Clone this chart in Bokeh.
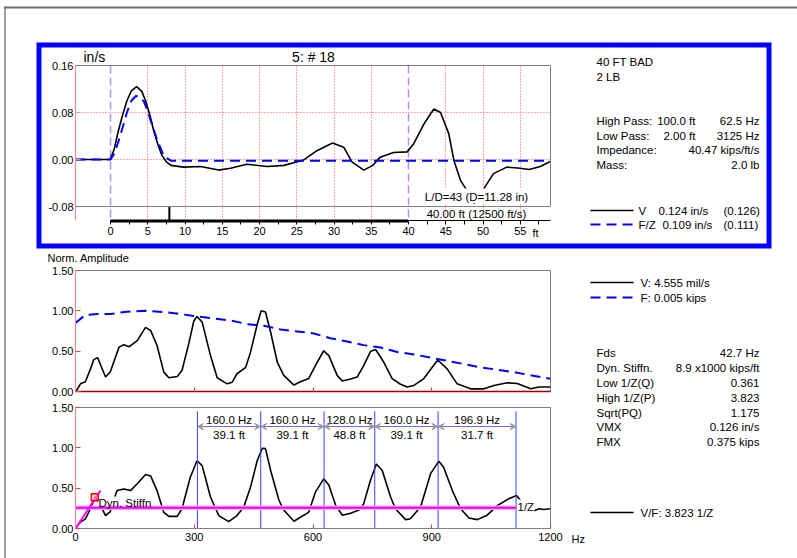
from bokeh.plotting import figure
from bokeh.models import (Range1d, LinearAxis, FixedTicker, PrintfTickFormatter, Span, Grid,
                          Arrow, VeeHead, ColumnDataSource)
from bokeh.layouts import row, column
from bokeh.embed import file_html
from bokeh.resources import INLINE
from bokeh.core.properties import value

# ---------------- data ----------------
top_v_ft = [-4.7, -0.2, 0.0, 0.5, 1.0, 1.6, 2.2, 2.8, 3.5, 4.2, 4.7, 5.3, 5.8, 6.4, 6.9, 7.5, 8.1, 9.8,
            12.1, 14.5, 16.1, 18.3, 21.0, 23.3, 25.9, 27.7, 29.8, 31.3, 32.4, 34.0, 35.2, 36.2, 38.0,
            39.8, 40.7, 42.1, 43.4, 44.3, 45.4, 46.1, 47.0, 47.7, 48.8, 50.1, 51.4, 53.2, 55.0, 56.2,
            57.7, 59.1]
top_v_val = [0, 0, 0.001, 0.018, 0.046, 0.075, 0.100, 0.117, 0.124, 0.116, 0.100, 0.075, 0.049, 0.024,
             0.007, -0.004, -0.010, -0.013, -0.012, -0.018, -0.015, -0.008, -0.012, -0.010, -0.001,
             0.015, 0.028, 0.021, -0.004, -0.018, -0.010, 0.004, 0.012, 0.013, 0.027, 0.061, 0.086,
             0.080, 0.044, -0.002, -0.036, -0.050, -0.075, -0.050, -0.024, -0.013, -0.015, -0.017,
             -0.012, -0.003]
top_f_ft = [-4.7, 0.0, 0.5, 1.1, 1.7, 2.2, 2.8, 3.4, 4.0, 4.5, 5.0, 5.4, 6.3, 7.2, 8.1, 59.1]
top_f_val = [0, 0, 0.010, 0.032, 0.058, 0.080, 0.100, 0.108, 0.106, 0.098, 0.082, 0.066, 0.032,
             0.005, -0.002, -0.002]
pile_length_ft = 40.0
sensor_ft = 7.9
wave_speed = 12500.0

top_yticks = [-0.08, 0.0, 0.08, 0.16]
ft_major = [0, 5, 10, 15, 20, 25, 30, 35, 40, 45, 50, 55]
ft_minor = [2.5, 7.5, 12.5, 17.5, 22.5, 27.5, 32.5, 37.5, 42.5, 47.5, 52.5, 57.5]
ft_grid = [5, 10, 15, 20, 25, 30, 35, 45, 50, 55]

mid_hz = [0, 2.5, 12.6, 25, 38, 46, 56, 65, 76, 88, 110, 122, 136, 156, 177, 190, 206, 223, 236, 257,
          269, 286, 299, 307, 320, 341, 358, 383, 396, 408, 430, 442, 459, 469, 480, 493, 510, 526,
          552, 568, 589, 606, 627, 640, 661, 674, 695, 712, 728, 745, 758, 771, 779, 800, 821, 838,
          855, 880, 915, 939, 964, 998, 1032, 1057, 1091, 1116, 1150, 1171, 1200]
mid_v = [0.0, 0.01, 0.095, 0.12, 0.28, 0.395, 0.42, 0.31, 0.18, 0.245, 0.55, 0.58, 0.555, 0.63, 0.795,
         0.755, 0.57, 0.24, 0.17, 0.185, 0.26, 0.59, 0.875, 0.93, 0.86, 0.445, 0.17, 0.095, 0.115,
         0.22, 0.30, 0.485, 0.83, 1.0, 0.985, 0.735, 0.36, 0.2, 0.08, 0.12, 0.16, 0.32, 0.505, 0.445,
         0.2, 0.13, 0.155, 0.18, 0.32, 0.495, 0.52, 0.425, 0.36, 0.16, 0.09, 0.055, 0.075, 0.16, 0.39,
         0.28, 0.095, 0.033, 0.033, 0.075, 0.108, 0.10, 0.033, 0.055, 0.055]
mid_f_hz = [0, 25, 55, 88, 130, 177, 223, 265, 307, 350, 392, 434, 476, 518, 560, 602, 644, 686, 728,
            771, 813, 855, 939, 1023, 1107, 1200]
mid_f = [0.85, 0.95, 0.96, 0.96, 0.99, 1.0, 0.985, 0.96, 0.93, 0.905, 0.88, 0.835, 0.815, 0.77, 0.745,
         0.72, 0.66, 0.62, 0.575, 0.545, 0.49, 0.46, 0.38, 0.30, 0.24, 0.157]

mob_hz = [0, 12.6, 25, 38, 50, 63, 76, 88, 101, 105, 122, 139, 156, 177, 190, 206, 223, 236, 257, 269,
          290, 307, 320, 341, 362, 387, 408, 425, 442, 459, 472, 480, 493, 514, 526, 552, 568, 589,
          606, 627, 640, 657, 674, 695, 716, 728, 745, 760, 775, 796, 808, 834, 846, 872, 897, 918,
          930, 952, 973, 994, 1015, 1040, 1066, 1095, 1114, 1124, 1154, 1171, 1183, 1200]
mob_v = [0.0, 0.08, 0.12, 0.245, 0.39, 0.285, 0.16, 0.21, 0.415, 0.47, 0.49, 0.47, 0.555, 0.67, 0.65,
         0.47, 0.2, 0.15, 0.15, 0.245, 0.635, 0.84, 0.78, 0.39, 0.16, 0.085, 0.16, 0.265, 0.51, 0.84,
         0.995, 0.99, 0.72, 0.35, 0.23, 0.09, 0.14, 0.2, 0.45, 0.615, 0.54, 0.29, 0.165, 0.19, 0.23,
         0.305, 0.595, 0.80, 0.72, 0.39, 0.245, 0.11, 0.12, 0.27, 0.68, 0.835, 0.76, 0.47, 0.245, 0.13,
         0.11, 0.165, 0.285, 0.37, 0.41, 0.35, 0.21, 0.245, 0.235, 0.245]
peak_hz = [308.0, 468.0, 628.0, 756.0, 916.0, 1112.9]
inv_z = 0.256
stiff_hz = [0.0, 63.0]
stiff_v = [0.0, 0.47]
stiff_mark_hz = [48.8]
stiff_mark_v = [0.388]
amp_ticks = [0.0, 0.5, 1.0, 1.5]
hz_ticks = [0, 300, 600, 900, 1200]
hz_inner_ticks = [300, 600, 900]

# ---------------- style ----------------
FONT = "Liberation Sans"
GRAY = "#808080"
FRAME = "#6e6e6e"
PINK = "#ff8a8a"
RED = "#ff3c3c"
BLUE = "#0000ff"
FS = "11.5px"
PX = dict(x_range_name="px", y_range_name="px")
OV = dict(x_range_name="px", y_range_name="px", level="overlay")

W = 797
SPLIT = 586          # lower panels: plot column ends, text column starts
RB = SPLIT - 550


def base_fig(w, h, left, right, top, bottom, xr, yr):
    p = figure(width=w, height=h, x_range=xr, y_range=yr, x_axis_type=None, y_axis_type=None,
               toolbar_location=None, output_backend="svg", min_border_left=left,
               min_border_right=right, min_border_top=top, min_border_bottom=bottom,
               background_fill_color="white", border_fill_color="white", outline_line_color=None)
    return p


def txt(p, x, y, s, align="left", size=FS, color="black", **kw):
    p.text(x=[x], y=[y], text=[s], text_align=align, text_baseline="middle",
           text_font=value(FONT), text_font_size=size, text_color=color, **kw)


def style_axis(ax, line_color, tick_color, tin, tout, size="11px", standoff=2):
    ax.axis_line_color = line_color
    ax.major_tick_line_color = tick_color
    ax.major_tick_in = tin
    ax.major_tick_out = tout
    ax.minor_tick_line_color = None
    ax.major_label_text_font = FONT
    ax.major_label_text_font_size = size
    ax.major_label_text_color = "black"
    ax.major_label_standoff = standoff


# ================= top panel (full width) =================
pA = base_fig(W, 250, 75, W - 550, 65, 30, Range1d(-4.70, 59.06), Range1d(-0.1038, 0.16))
pA.extra_x_ranges = {"px": Range1d(75, 550)}
pA.extra_y_ranges = {"px": Range1d(220, 65)}

pA.add_layout(Grid(dimension=0, ticker=FixedTicker(ticks=ft_grid), grid_line_color="#ff5050",
                   grid_line_dash="1 2"))
pA.add_layout(Grid(dimension=1, ticker=FixedTicker(ticks=[0.0, 0.08]), grid_line_color="#ff5050",
                   grid_line_dash="1 2"))
pA.add_layout(Span(location=0, dimension="height", line_color="#9c9cff", line_dash="8 4",
                   line_width=1.5, level="underlay"))
pA.add_layout(Span(location=pile_length_ft, dimension="height", line_color="#c48be8",
                   line_dash="8 4", line_width=1.5, level="underlay"))
pA.add_layout(Span(location=-0.08, dimension="width", line_color=GRAY, line_width=1))

pA.line(top_v_ft, top_v_val, line_color="black", line_width=1.6)
pA.line(top_f_ft, top_f_val, line_color=BLUE, line_width=2, line_dash="10 6")
pA.segment(x0=[sensor_ft], x1=[sensor_ft], y0=[206], y1=[220], y_range_name="px",
           line_color="black", line_width=2)
# white box behind the L/D label
pA.quad(left=[423], right=[530], top=[188], bottom=[203], fill_color="white", line_color=None, **PX)
txt(pA, 476, 196, "L/D=43 (D=11.28 in)", align="center", **PX)
txt(pA, 476, 213, f"{pile_length_ft:.2f} ft ({wave_speed:.0f} ft/s)", align="center", **PX)

ax = LinearAxis(ticker=FixedTicker(ticks=ft_major, minor_ticks=ft_minor), bounds=(0, 59.06))
style_axis(ax, "black", "black", 0, 4)
ax.minor_tick_line_color = "black"
ax.minor_tick_in = 0
ax.minor_tick_out = 4
pA.add_layout(ax, "below")
ay = LinearAxis(ticker=FixedTicker(ticks=top_yticks), formatter=PrintfTickFormatter(format="%.2f"))
style_axis(ay, PINK, PINK, 5, 0)
pA.add_layout(ay, "left")

pA.segment(x0=[0], x1=[pile_length_ft], y0=[220.5], y1=[220.5], y_range_name="px",
           line_color="black", line_width=3, level="overlay")
# white gap between the plot and the information block
pA.quad(left=[552], right=[592], top=[48], bottom=[242], fill_color="white", line_color=None, **OV)
pA.segment(x0=[75, 550], x1=[550, 550], y0=[65, 65], y1=[65, 206], line_color=GRAY, **OV)
txt(pA, 535, 232, "ft", align="center", size="11px", **OV)
txt(pA, 313, 56, "5: # 18", align="center", size="14px", **OV)
txt(pA, 83, 56, "in/s", size="14px", **OV)
# blue box and outer frame
pA.quad(left=[38.5], right=[768.5], top=[44.5], bottom=[245.5], fill_color=None,
        line_color=BLUE, line_width=5, line_join="miter", **OV)
pA.segment(x0=[4], x1=[W + 5], y0=[7], y1=[7], line_color=FRAME, line_width=2, **OV)
pA.segment(x0=[4.5], x1=[4.5], y0=[6], y1=[252], line_color="#404040", line_width=1, **OV)

# top-right information block
txt(pA, 596, 61, "40 FT BAD", **OV)
txt(pA, 596, 76, "2 LB", **OV)
for yy, lab, mid, right in [(120, "High Pass:", "100.0 ft", "62.5 Hz"),
                            (135, "Low Pass:", "2.00 ft", "3125 Hz"),
                            (149, "Impedance:", "", "40.47 kips/ft/s"),
                            (164, "Mass:", "", "2.0 lb")]:
    txt(pA, 596, yy, lab, **OV)
    if mid:
        txt(pA, 695, yy, mid, align="right", **OV)
    txt(pA, 759, yy, right, align="right", **OV)

pA.segment(x0=[590], x1=[633], y0=[210], y1=[210], line_color="black", line_width=1.6, **OV)
pA.segment(x0=[590], x1=[633], y0=[224], y1=[224], line_color=BLUE, line_width=2,
           line_dash="10 6", **OV)
txt(pA, 638, 210, "V", **OV)
txt(pA, 658, 210, "0.124 in/s", **OV)
txt(pA, 723, 210, "(0.126)", **OV)
txt(pA, 638, 224, "F/Z", **OV)
txt(pA, 662, 224, "0.109 in/s", **OV)
txt(pA, 723, 224, "(0.111)", **OV)

# ================= middle panel =================
pB = base_fig(SPLIT, 150, 75, RB, 20, 9, Range1d(0, 1200), Range1d(0, 1.5))
pB.outline_line_color = GRAY
pB.extra_x_ranges = {"px": Range1d(75, 550)}
pB.extra_y_ranges = {"px": Range1d(391, 270)}
pB.line(mid_hz, mid_v, line_color="black", line_width=1.6)
pB.line(mid_f_hz, mid_f, line_color=BLUE, line_width=2, line_dash="10 6")
bx = LinearAxis(ticker=FixedTicker(ticks=hz_inner_ticks),
                major_label_overrides={300: "", 600: "", 900: ""})
style_axis(bx, "#a00000", RED, 4, 0, size="1px", standoff=0)
bx.axis_line_width = 1.5
pB.add_layout(bx, "below")
by = LinearAxis(ticker=FixedTicker(ticks=amp_ticks), formatter=PrintfTickFormatter(format="%.2f"))
style_axis(by, PINK, RED, 5, 0)
pB.add_layout(by, "left")
txt(pB, 47, 257, "Norm. Amplitude", size="11px", **OV)
pB.segment(x0=[4.5], x1=[4.5], y0=[240], y1=[410], line_color="#404040", line_width=1, **OV)

# ================= bottom panel =================
pC = base_fig(SPLIT, 158, 75, RB, 7, 30, Range1d(0, 1200), Range1d(0, 1.5))
pC.outline_line_color = GRAY
pC.extra_x_ranges = {"px": Range1d(75, 550)}
pC.extra_y_ranges = {"px": Range1d(528, 407)}
pC.line(mob_hz, mob_v, line_color="black", line_width=1.6)
pC.quad(left=[97, 517], right=[152, 534], top=[496, 499], bottom=[509, 513],
        fill_color="white", line_color=None, **PX)
pC.segment(x0=peak_hz, x1=peak_hz, y0=[0] * len(peak_hz), y1=[1.454] * len(peak_hz),
           line_color="#3c3cff", line_width=1)
pC.line([0, peak_hz[-1]], [inv_z, inv_z], line_color="#ffa6ff", line_width=4.5)
pC.line([0, peak_hz[-1]], [inv_z, inv_z], line_color="#f000f0", line_width=2)
pC.line(stiff_hz, stiff_v, line_color="#ff00ff", line_width=2)
pC.scatter(stiff_mark_hz, stiff_mark_v, marker="square", size=7, fill_color="#ffb0b0",
           fill_alpha=0.5, line_color="#ff0000", line_width=1.5)
txt(pC, 98, 502, "Dyn. Stiffn", **PX)
txt(pC, 517, 506, "1/Z", **PX)

dfs = [b - a for a, b in zip(peak_hz[:-1], peak_hz[1:])]
mids = [(a + b) / 2 for a, b in zip(peak_hz[:-1], peak_hz[1:])]
hz_lab = [f"{d:.1f} Hz" for d in dfs]
ft_lab = [f"{wave_speed / (2 * d):.1f} ft" for d in dfs]
pC.text(x=mids, y=[1.347] * len(mids), text=hz_lab, text_align="center", text_baseline="middle",
        text_font=value(FONT), text_font_size=FS, text_color="black")
pC.text(x=mids, y=[1.161] * len(mids), text=ft_lab, text_align="center", text_baseline="middle",
        text_font=value(FONT), text_font_size=FS, text_color="black")
arr_src = ColumnDataSource(dict(x0=peak_hz[:-1], x1=peak_hz[1:], y=[1.264] * len(dfs)))
pC.add_layout(Arrow(x_start="x0", y_start="y", x_end="x1", y_end="y", source=arr_src,
                    line_color="#6a6ad8", line_width=1,
                    start=VeeHead(size=6, line_color="#909090", fill_color="#b0b0b0", line_width=1),
                    end=VeeHead(size=6, line_color="#909090", fill_color="#b0b0b0", line_width=1)))

cx = LinearAxis(ticker=FixedTicker(ticks=hz_ticks))
style_axis(cx, GRAY, RED, 4, 0, standoff=4)
pC.add_layout(cx, "below")
cy = LinearAxis(ticker=FixedTicker(ticks=amp_ticks), formatter=PrintfTickFormatter(format="%.2f"))
style_axis(cy, PINK, RED, 5, 0)
pC.add_layout(cy, "left")
txt(pC, 571, 538, "Hz", size="11px", **OV)
pC.segment(x0=[4.5], x1=[4.5], y0=[390], y1=[560], line_color="#404040", line_width=1, **OV)

# ================= lower right text column =================
pT = base_fig(W - SPLIT, 308, 0, 0, 0, 0, Range1d(SPLIT, W), Range1d(558, 250))
pT.min_border = 0

pT.segment(x0=[590], x1=[633], y0=[282], y1=[282], line_color="black", line_width=1.6)
pT.segment(x0=[590], x1=[633], y0=[297], y1=[297], line_color=BLUE, line_width=2, line_dash="10 6")
txt(pT, 640, 282, "V: 4.555 mil/s")
txt(pT, 640, 297, "F: 0.005 kips")

for yy, lab, val in [(352, "Fds", "42.7 Hz"),
                     (367, "Dyn. Stiffn.", "8.9 x1000 kips/ft"),
                     (382, "Low 1/Z(Q)", "0.361"),
                     (397, "High 1/Z(P)", "3.823"),
                     (412, "Sqrt(PQ)", "1.175"),
                     (426, "VMX", "0.126 in/s"),
                     (441, "FMX", "0.375 kips")]:
    txt(pT, 596, yy, lab)
    txt(pT, 759, yy, val, align="right")

pT.segment(x0=[590], x1=[633], y0=[512], y1=[512], line_color="black", line_width=1.6)
txt(pT, 640, 512, "V/F: 3.823 1/Z")

layout = column(pA, row(column(pB, pC), pT))
open("out.html", "w").write(file_html(layout, INLINE))
